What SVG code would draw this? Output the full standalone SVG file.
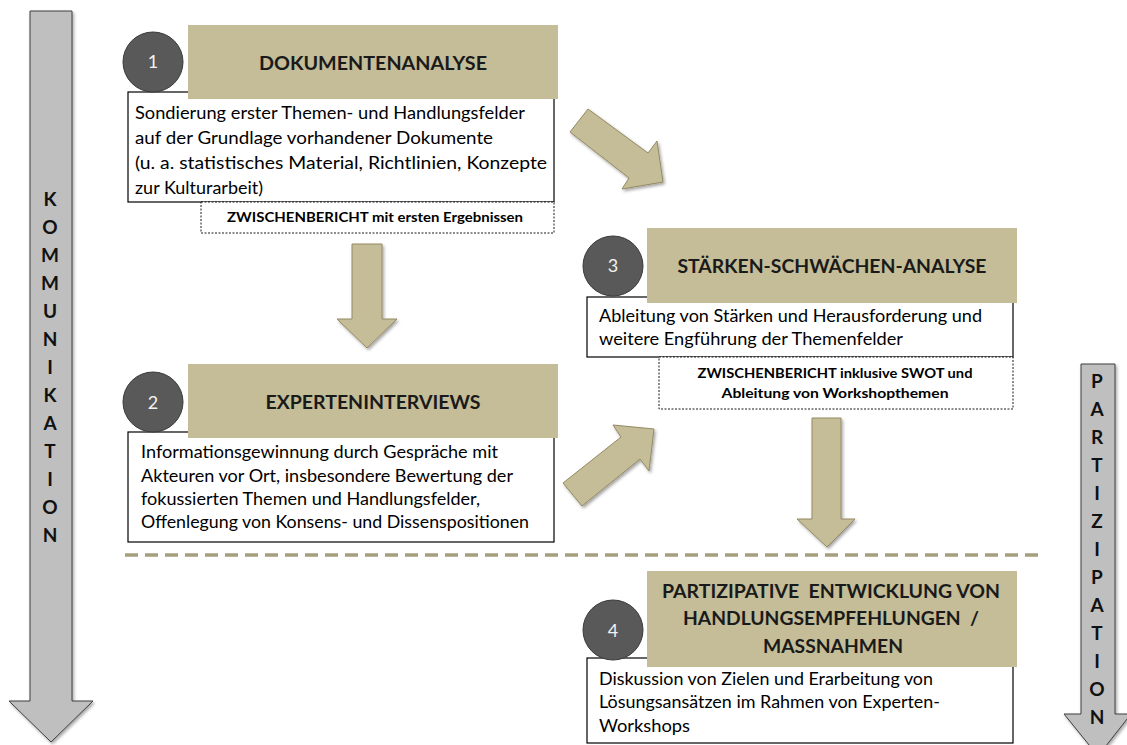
<svg xmlns="http://www.w3.org/2000/svg" width="1127" height="745" viewBox="0 0 1127 745">
<defs>
<filter id="sh" x="-20%" y="-20%" width="140%" height="140%">
<feDropShadow dx="1.5" dy="2" stdDeviation="1.5" flood-color="#000" flood-opacity="0.35"/>
</filter>
<style>
.grey{fill:#BFBFBF;stroke:#3F3F3F;stroke-width:1}
.tanarrow{fill:#C4BD97;stroke:#948A62;stroke-width:1}
.head{fill:#C4BD97}
.circ{fill:#595959;stroke:#3A3A3A;stroke-width:1}
.num{font-family:Lato,"Open Sans",sans-serif;font-size:18px;fill:#F2F2F2;text-anchor:middle}
.box{fill:#fff;stroke:#000;stroke-width:1.2}
.dbox{fill:#fff;stroke:#000;stroke-width:0.9;stroke-dasharray:2 1.5}
.title{font-family:Lato,"Open Sans",sans-serif;font-weight:bold;font-size:19px;fill:#1A1A1A;text-anchor:middle;white-space:pre}
.body{font-family:Lato,"Open Sans",sans-serif;font-size:18px;fill:#000}
.small{font-family:Lato,"Open Sans",sans-serif;font-weight:bold;font-size:13px;fill:#000;text-anchor:middle}
.vlet{font-family:Lato,"Open Sans",sans-serif;font-weight:bold;font-size:19px;fill:#111;text-anchor:middle}
</style>
</defs>
<rect width="1127" height="745" fill="#fff"/>

<g id="kommunikation">
<path class="grey" filter="url(#sh)" d="M30,11 H72 V701 H93 L51,742 L9,701 H30 Z"/>
<text class="vlet" x="50" y="206">K</text>
<text class="vlet" x="50" y="234">O</text>
<text class="vlet" x="50" y="262">M</text>
<text class="vlet" x="50" y="290">M</text>
<text class="vlet" x="50" y="318">U</text>
<text class="vlet" x="50" y="346">N</text>
<text class="vlet" x="50" y="374">I</text>
<text class="vlet" x="50" y="402">K</text>
<text class="vlet" x="50" y="430">A</text>
<text class="vlet" x="50" y="458">T</text>
<text class="vlet" x="50" y="486">I</text>
<text class="vlet" x="50" y="514">O</text>
<text class="vlet" x="50" y="542">N</text>
</g>

<g id="partizipation">
<path class="grey" filter="url(#sh)" d="M1081,364 H1115 V714 H1131 L1098,756 L1064,714 H1081 Z"/>
<text class="vlet" x="1097" y="388">P</text>
<text class="vlet" x="1097" y="416">A</text>
<text class="vlet" x="1097" y="444">R</text>
<text class="vlet" x="1097" y="472">T</text>
<text class="vlet" x="1097" y="500">I</text>
<text class="vlet" x="1097" y="528">Z</text>
<text class="vlet" x="1097" y="556">I</text>
<text class="vlet" x="1097" y="584">P</text>
<text class="vlet" x="1097" y="612">A</text>
<text class="vlet" x="1097" y="640">T</text>
<text class="vlet" x="1097" y="668">I</text>
<text class="vlet" x="1097" y="696">O</text>
<text class="vlet" x="1097" y="724">N</text>
</g>

<g id="connectors">
<path class="tanarrow" filter="url(#sh)" d="M352,244 H382 V319 H397 L367,348 L337,319 H352 Z"/>
<path class="tanarrow" filter="url(#sh)" d="M588,109 L648,153 L657,141 L663,182 L622,189 L629,178 L570,132 Z"/>
<path class="tanarrow" filter="url(#sh)" d="M654,429 L649,471 L640,459 L582,506 L563,483 L621,437 L613,425 Z"/>
<path class="tanarrow" filter="url(#sh)" d="M812,418 H841 V519 H855 L827,547 L797,519 H812 Z"/>
<line x1="125" y1="555" x2="1040" y2="555" stroke="#A59F7E" stroke-width="3.5" stroke-dasharray="13 7"/>
</g>

<g id="node1">
<rect class="box" x="128" y="92" width="426" height="110"/>
<rect class="head" x="188" y="25" width="370" height="74"/>
<circle class="circ" cx="153" cy="62" r="30"/>
<text class="num" x="153" y="68">1</text>
<text class="title" x="373" y="70" textLength="228" lengthAdjust="spacingAndGlyphs">DOKUMENTENANALYSE</text>
<text class="body" x="135" y="119" textLength="390" lengthAdjust="spacingAndGlyphs">Sondierung erster Themen- und Handlungsfelder</text>
<text class="body" x="135" y="144" textLength="358" lengthAdjust="spacingAndGlyphs">auf der Grundlage vorhandener Dokumente</text>
<text class="body" x="135" y="169" textLength="412" lengthAdjust="spacingAndGlyphs">(u. a. statistisches Material, Richtlinien, Konzepte</text>
<text class="body" x="135" y="194" textLength="128" lengthAdjust="spacingAndGlyphs">zur Kulturarbeit)</text>
<rect class="dbox" x="201" y="202" width="353" height="31"/>
<text class="small" x="375" y="222" textLength="296" lengthAdjust="spacingAndGlyphs">ZWISCHENBERICHT mit ersten Ergebnissen</text>
</g>

<g id="node2">
<rect class="box" x="128" y="432" width="426" height="110"/>
<rect class="head" x="188" y="364" width="370" height="74"/>
<circle class="circ" cx="153" cy="402" r="30"/>
<text class="num" x="153" y="409">2</text>
<text class="title" x="373" y="409" textLength="215" lengthAdjust="spacingAndGlyphs">EXPERTENINTERVIEWS</text>
<text class="body" x="141" y="458" textLength="357" lengthAdjust="spacingAndGlyphs">Informationsgewinnung durch Gespräche mit</text>
<text class="body" x="141" y="482" textLength="372" lengthAdjust="spacingAndGlyphs">Akteuren vor Ort, insbesondere Bewertung der</text>
<text class="body" x="141" y="505" textLength="339" lengthAdjust="spacingAndGlyphs">fokussierten Themen und Handlungsfelder,</text>
<text class="body" x="141" y="528" textLength="388" lengthAdjust="spacingAndGlyphs">Offenlegung von Konsens- und Dissenspositionen</text>
</g>

<g id="node3">
<rect class="box" x="587" y="297" width="426" height="60"/>
<rect class="head" x="647" y="228" width="370" height="75"/>
<circle class="circ" cx="613" cy="266" r="30"/>
<text class="num" x="613" y="272">3</text>
<text class="title" x="832" y="273" textLength="309" lengthAdjust="spacingAndGlyphs">STÄRKEN-SCHWÄCHEN-ANALYSE</text>
<text class="body" x="599" y="322" textLength="383" lengthAdjust="spacingAndGlyphs">Ableitung von Stärken und Herausforderung und</text>
<text class="body" x="599" y="345" textLength="304" lengthAdjust="spacingAndGlyphs">weitere Engführung der Themenfelder</text>
<rect class="dbox" x="659" y="357" width="354" height="52"/>
<text class="small" x="835" y="378" textLength="275" lengthAdjust="spacingAndGlyphs">ZWISCHENBERICHT inklusive SWOT und</text>
<text class="small" x="835" y="398" textLength="227" lengthAdjust="spacingAndGlyphs">Ableitung von Workshopthemen</text>
</g>

<g id="node4">
<rect class="box" x="587" y="658" width="426" height="85"/>
<rect class="head" x="647" y="571" width="370" height="96"/>
<circle class="circ" cx="613" cy="630" r="30"/>
<text class="num" x="613" y="637">4</text>
<text class="title" x="831" y="598" textLength="338" lengthAdjust="spacingAndGlyphs">PARTIZIPATIVE  ENTWICKLUNG VON</text>
<text class="title" x="831" y="625" textLength="296" lengthAdjust="spacingAndGlyphs">HANDLUNGSEMPFEHLUNGEN  /</text>
<text class="title" x="833" y="653" textLength="140" lengthAdjust="spacingAndGlyphs">MASSNAHMEN</text>
<text class="body" x="599" y="685" textLength="334" lengthAdjust="spacingAndGlyphs">Diskussion von Zielen und Erarbeitung von</text>
<text class="body" x="599" y="708" textLength="341" lengthAdjust="spacingAndGlyphs">Lösungsansätzen im Rahmen von Experten-</text>
<text class="body" x="599" y="732" textLength="91" lengthAdjust="spacingAndGlyphs">Workshops</text>
</g>
</svg>
